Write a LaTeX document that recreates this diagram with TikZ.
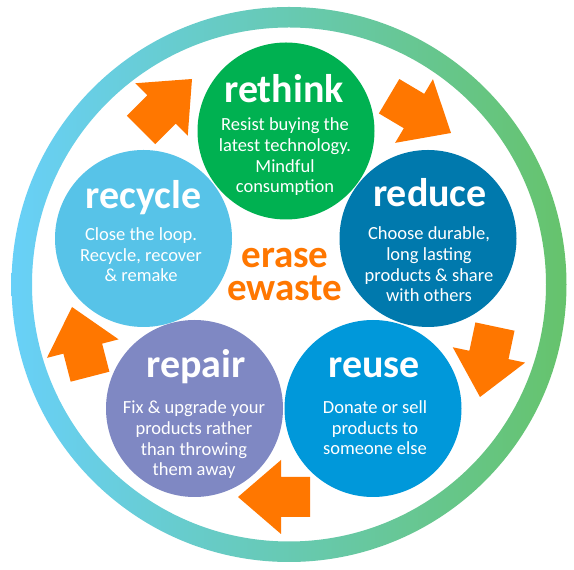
\documentclass[tikz,border=0pt]{standalone}
\usepackage{fontspec}
\setmainfont{Carlito}
\definecolor{ringL}{HTML}{68D0F8}
\definecolor{ringM}{HTML}{66CBC6}
\definecolor{ringR}{HTML}{66C36C}
\definecolor{cRethink}{HTML}{00B151}
\definecolor{cReduce}{HTML}{0079AD}
\definecolor{cReuse}{HTML}{0098DA}
\definecolor{cRepair}{HTML}{7F88C3}
\definecolor{cRecycle}{HTML}{57C3E8}
\definecolor{cOrange}{HTML}{FF7700}
\begin{document}
\begin{tikzpicture}[x=1pt,y=1pt,
  stage/.style={circle, minimum size=177pt, inner sep=0pt, draw=none},
  titletext/.style={font=\bfseries\fontsize{40}{40}\selectfont, text=white, anchor=base, inner sep=0pt},
  bodytext/.style={font=\fontsize{18.5}{20.8}\selectfont, text=white, align=center, anchor=base, inner sep=0pt},
  centertext/.style={font=\bfseries\fontsize{39}{33}\selectfont, text=cOrange, anchor=base, inner sep=0pt},
  blockarrow/.pic={\fill[cOrange] (0,0) -- (-43,37) -- (-43,20) -- (-72,20) -- (-72,-20) -- (-43,-20) -- (-43,-37) -- cycle;}
]
\useasboundingbox (0,0) rectangle (574,570);
\fill[white] (0,0) rectangle (574,570);
\shade[left color=ringL, middle color=ringM, right color=ringR, even odd rule]
  (289,285.5) circle (277.5) (289,285.5) circle (257);

% stage circles
\node[stage, fill=cRethink] (rethink) at (286,439) {};
\node[stage, fill=cReduce] (reduce) at (428,331.5) {};
\node[stage, fill=cReuse] (reuse) at (373,161.5) {};
\node[stage, fill=cRepair] (repair) at (194.5,161.5) {};
\node[stage, fill=cRecycle] (recycle) at (143.5,331.5) {};

% titles
\node[titletext] (rethinkT) at (284,467) {rethink};
\node[titletext] (reduceT) at (430,363) {reduce};
\node[titletext] (reuseT) at (374,192) {reuse};
\node[titletext] (repairT) at (196,192) {repair};
\node[titletext] (recycleT) at (143.5,361) {recycle};

% bodies (base anchor = last line baseline)
\node[bodytext] (rethinkB) at (285,377) {Resist buying the\\latest technology.\\Mindful\\consumption};
\node[bodytext] (reduceB) at (429,268) {Choose durable,\\long lasting\\products \& share\\with others};
\node[bodytext] (reuseB) at (375,115) {Donate or sell\\products to\\someone else};
\node[bodytext] (repairB) at (194,94) {Fix \& upgrade your\\products rather\\than throwing\\them away};
\node[bodytext] (recycleB) at (141,288) {Close the loop.\\Recycle, recover\\\& remake};

% centre
\node[centertext, text depth=0pt] (erase) at (285,302) {erase};
\node[centertext, text height=26pt] (ewaste) at (285,269) {ewaste};

% arrows
\pic[rotate=45] (arrowA) at (192,491) {blockarrow};
\pic[rotate=-30.7] (arrowB) at (451,437) {blockarrow};
\pic[rotate=-102] (arrowC) at (480,173) {blockarrow};
\pic[rotate=180] (arrowD) at (238,73) {blockarrow};
\pic[rotate=104.5] (arrowE) at (72,263) {blockarrow};
\end{tikzpicture}
\end{document}
